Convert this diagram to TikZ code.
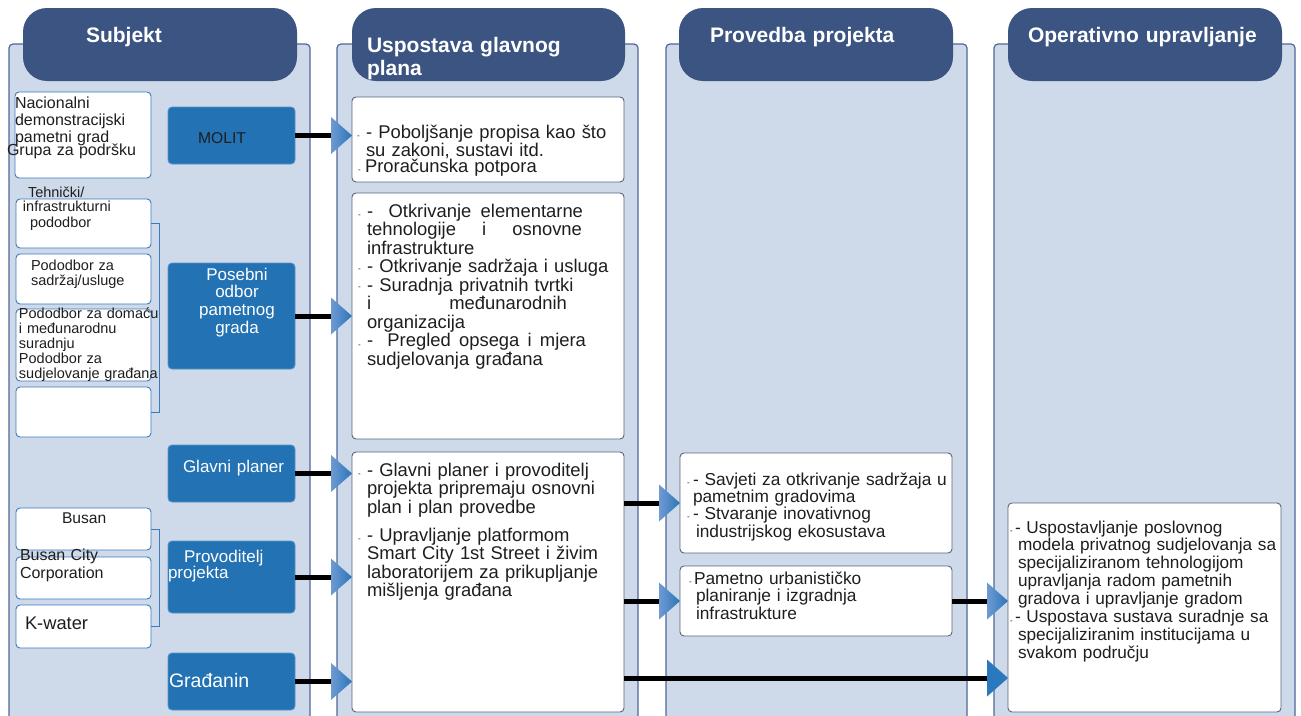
\documentclass[tikz,border=0pt]{standalone}
\usepackage{fontspec}
\setmainfont{Liberation Sans}
\usetikzlibrary{calc}

\definecolor{hdr}{HTML}{3B5482}
\definecolor{panel}{HTML}{CED9EA}
\definecolor{panelline}{HTML}{4F6797}
\definecolor{actor}{HTML}{2272B4}
\definecolor{actorline}{HTML}{5B93C9}
\definecolor{subline}{HTML}{3A7BBF}
\definecolor{boxline}{HTML}{56647E}
\definecolor{tipL}{HTML}{6E9BD3}
\definecolor{tipR}{HTML}{2C74B8}
\definecolor{tipsolid}{HTML}{2A78BE}
\definecolor{txt}{HTML}{1E1E1E}

% arrow head: shaded triangle whose tip sits on the given point
\newcommand\headtip[1]{\shade[tipshade] #1 -- ++(-21,-18.5) -- ++(0,37) -- cycle;}
\newcommand\solidtip[1]{\fill[tipsolid] #1 -- ++(-21,-18.5) -- ++(0,37) -- cycle;}
\newcommand\fsz[2]{\fontsize{#1}{#2}\selectfont}
% a line spread to a fixed width
\newcommand\spread[2]{\makebox[#1][l]{#2}}

\begin{document}
\begin{tikzpicture}[x=1pt,y=-1pt,
  corner/.style={anchor=north west, inner sep=0pt, outer sep=0pt},
  panelbox/.style={corner, draw=panelline, line width=1.2pt, fill=panel, rounded corners=4pt},
  header/.style={corner, fill=hdr, rounded corners=24pt},
  actorbox/.style={corner, draw=actorline, fill=actor, rounded corners=4pt, line width=0.8pt},
  subbox/.style={corner, draw=subline, fill=white, rounded corners=4pt, line width=0.9pt},
  infobox/.style={corner, draw=boxline, fill=white, rounded corners=4pt, line width=0.9pt},
  conn/.style={line width=5pt, black, shorten >=20pt},
  bracket/.style={draw=subline, line width=0.9pt},
  tipshade/.style={left color=tipL, right color=tipR},
  lbl/.style={anchor=base west, inner sep=0pt, outer sep=0pt, text=txt, text width=330pt, align=left},
  hdtext/.style={lbl, text=white, font=\bfseries\fsz{21}{23}},
  wtext/.style={lbl, text=white, font=\fsz{17}{16}},
  subtext/.style={lbl, font=\fsz{14.5}{15}},
  bodytext/.style={lbl, font=\fsz{18.4}{18.5}},
  smalltext/.style={lbl, font=\fsz{17.3}{17.4}},
  minidash/.style={lbl, font=\fsz{8}{8}}
]
\useasboundingbox (0,0) rectangle (1301,715);
\fill[white] (0,0) rectangle (1301,715);

% ---- column panels and headers ----
\node[panelbox, minimum width=301pt, minimum height=700pt] (p1) at (9,44) {};
\node[panelbox, minimum width=301pt, minimum height=700pt] (p2) at (337,44) {};
\node[panelbox, minimum width=301pt, minimum height=700pt] (p3) at (666,44) {};
\node[panelbox, minimum width=301pt, minimum height=700pt] (p4) at (994,44) {};

\node[header, minimum width=274pt, minimum height=73pt] (h1) at (23,8) {};
\node[header, minimum width=273pt, minimum height=73pt] (h2) at (352,8) {};
\node[header, minimum width=274pt, minimum height=73pt] (h3) at (679,8) {};
\node[header, minimum width=274pt, minimum height=73pt] (h4) at (1008,8) {};

\node[hdtext] (h1t) at (86,42) {Subjekt};
\node[hdtext] (h2t) at (367,52) {Uspostava glavnog\\plana};
\node[hdtext] (h3t) at (710,42) {Provedba projekta};
\node[hdtext] (h4t) at (1028,42) {Operativno upravljanje};

% ---- column 1: subjects ----
\node[subbox, minimum width=136pt, minimum height=86pt] (nat) at (15,92) {};
\node[subbox, minimum width=135pt, minimum height=49pt] (t2) at (16,199) {};
\node[subbox, minimum width=135pt, minimum height=50pt] (t3) at (16,254) {};
\node[subbox, minimum width=135pt, minimum height=72pt] (t4) at (16,309) {};
\node[subbox, minimum width=135pt, minimum height=50pt] (t5) at (16,387) {};
\node[subbox, minimum width=135pt, minimum height=42pt] (b1) at (16,508) {};
\node[subbox, minimum width=135pt, minimum height=42pt] (b2) at (16,557) {};
\node[subbox, minimum width=135pt, minimum height=43pt] (b3) at (16,605) {};

\draw[bracket] (t2.east) -- ++(8,0) |- (t5.east);
\draw[bracket] (b1.east) -- ++(8,0) |- (b3.east);

\node[actorbox, minimum width=127pt, minimum height=57pt] (molit) at (168,107) {};
\node[actorbox, minimum width=127pt, minimum height=106pt] (posebni) at (168,263) {};
\node[actorbox, minimum width=127pt, minimum height=57pt] (glavni) at (168,445) {};
\node[actorbox, minimum width=127pt, minimum height=72pt] (provod) at (168,541) {};
\node[actorbox, minimum width=127pt, minimum height=57pt] (gradj) at (168,653) {};

\node[lbl, font=\fsz{16}{17}] (natt) at (15,108) {Nacionalni\\demonstracijski\\pametni grad};
\node[lbl, font=\fsz{16}{17}] (grupa) at (7,155) {Grupa za podršku};
\node[subtext] (tehn) at (28,197) {Tehnički/};
\node[subtext] (infra) at (23,211) {infrastrukturni};
\node[subtext] (podo) at (30,227) {pododbor};
\node[subtext] (sadr) at (31,270) {Pododbor za\\sadržaj/usluge};
\node[subtext] (dom) at (19,318) {Pododbor za domaću\\i međunarodnu\\suradnju\\Pododbor za\\sudjelovanje građana};
\node[lbl, font=\fsz{15.6}{16}] (busan) at (62,523) {Busan};
\node[lbl, font=\fsz{16}{18}] (bcc) at (20,560) {Busan City\\Corporation};
\node[lbl, font=\fsz{18.3}{18}] (kw) at (25,629) {K-water};

\node[lbl, font=\fsz{15.7}{16}] (molitt) at (198,143) {MOLIT};
\node[wtext, anchor=base, text width=110pt, align=center, font=\fsz{17}{17.7}] (posebnit) at (237,280) {Posebni\\odbor\\pametnog\\grada};
\node[wtext] (glavnit) at (183,472) {Glavni planer};
\node[wtext] (provodt) at (184,562) {Provoditelj};
\node[wtext] (provodt2) at (168,578) {projekta};
\node[wtext, font=\fsz{19.5}{20}] (gradjt) at (169,687) {Građanin};

% ---- column 2: master plan ----
\node[infobox, minimum width=272pt, minimum height=85pt] (A) at (352,97) {};
\node[infobox, minimum width=272pt, minimum height=246pt] (B) at (352,193) {};
\node[infobox, minimum width=272pt, minimum height=260pt] (C) at (352,452) {};

\node[bodytext] (At) at (366,138) {- Poboljšanje propisa kao što\\su zakoni, sustavi itd.};
\node[bodytext] (At2) at (365,172) {Proračunska potpora};
\node[minidash] (Ad1) at (357,138) {-};
\node[minidash] (Ad2) at (358,172) {-};

\node[bodytext] (Bt) at (367,217) {\spread{216pt}{- \hfill Otkrivanje\hfill elementarne}\\
\spread{215pt}{tehnologije\hfill i\hfill osnovne}\\
infrastrukture\\
- Otkrivanje sadržaja i usluga\\
- Suradnja privatnih tvrtki\\
\spread{200pt}{i\hfill međunarodnih}\\
organizacija\\
\spread{219pt}{- \hfill Pregled\hfill opsega\hfill i\hfill mjera}\\
sudjelovanja građana};
\node[minidash] (Bd1) at (358,217) {-};
\node[minidash] (Bd2) at (358,271) {-};
\node[minidash] (Bd3) at (358,289) {-};
\node[minidash] (Bd4) at (358,347) {-};

\node[bodytext] (Ct1) at (367,476) {- Glavni planer i provoditelj\\projekta pripremaju osnovni\\plan i plan provedbe};
\node[bodytext, font=\fsz{18.4}{18.6}] (Ct2) at (367,541) {- Upravljanje platformom\\Smart City 1st Street i živim\\laboratorijem za prikupljanje\\mišljenja građana};
\node[minidash] (Cd1) at (358,476) {-};
\node[minidash] (Cd2) at (358,541) {-};

% ---- column 3: implementation ----
\node[infobox, minimum width=272pt, minimum height=100pt] (D) at (680,453) {};
\node[infobox, minimum width=272pt, minimum height=70pt] (E) at (680,566) {};

\node[smalltext] (Dt) at (693,485) {- Savjeti za otkrivanje sadržaja u\\pametnim gradovima\\- Stvaranje inovativnog\\\hspace*{3pt}industrijskog ekosustava};
\node[minidash] (Dd1) at (687,485) {-};
\node[minidash] (Dd2) at (687,519) {-};
\node[smalltext, font=\fsz{17.3}{17.6}] (Et) at (694,584) {Pametno urbanističko\\\hspace*{2pt}planiranje i izgradnja\\\hspace*{2pt}infrastrukture};
\node[minidash] (Ed1) at (689,584) {-};

% ---- column 4: operation ----
\node[infobox, minimum width=273pt, minimum height=209pt] (F) at (1008,503) {};
\node[smalltext, font=\fsz{17.2}{17.9}] (Ft) at (1015,533) {- Uspostavljanje poslovnog\\
\hspace*{3pt}modela privatnog sudjelovanja sa\\
\hspace*{3pt}specijaliziranom tehnologijom\\
\hspace*{3pt}upravljanja radom pametnih\\
\hspace*{3pt}gradova i upravljanje gradom\\
- Uspostava sustava suradnje sa\\
\hspace*{3pt}specijaliziranim institucijama u\\
\hspace*{3pt}svakom području};
\node[minidash] (Fd1) at (1010,533) {-};
\node[minidash] (Fd2) at (1010,623) {-};

% ---- connectors ----
\coordinate (trunk) at (0,678);

\draw[conn] (molit.east) -- (molit.east -| A.west);
\headtip{(molit.east -| A.west)}
\draw[conn] (posebni.east) -- (posebni.east -| B.west);
\headtip{(posebni.east -| B.west)}
\draw[conn] (glavni.east) -- (glavni.east -| C.west);
\headtip{(glavni.east -| C.west)}
\draw[conn] (provod.east) -- (provod.east -| C.west);
\headtip{(provod.east -| C.west)}
\draw[conn] (gradj.east) -- (gradj.east -| C.west);
\headtip{(gradj.east -| C.west)}

\draw[conn] (C.east |- D.west) -- (D.west);
\headtip{(D.west)}
\draw[conn] (C.east |- E.west) -- (E.west);
\headtip{(E.west)}
\draw[conn] (E.east) -- (E.east -| F.west);
\headtip{(E.east -| F.west)}
\draw[conn] (C.east |- trunk) -- (F.west |- trunk);
\solidtip{(F.west |- trunk)}

\end{tikzpicture}
\end{document}
